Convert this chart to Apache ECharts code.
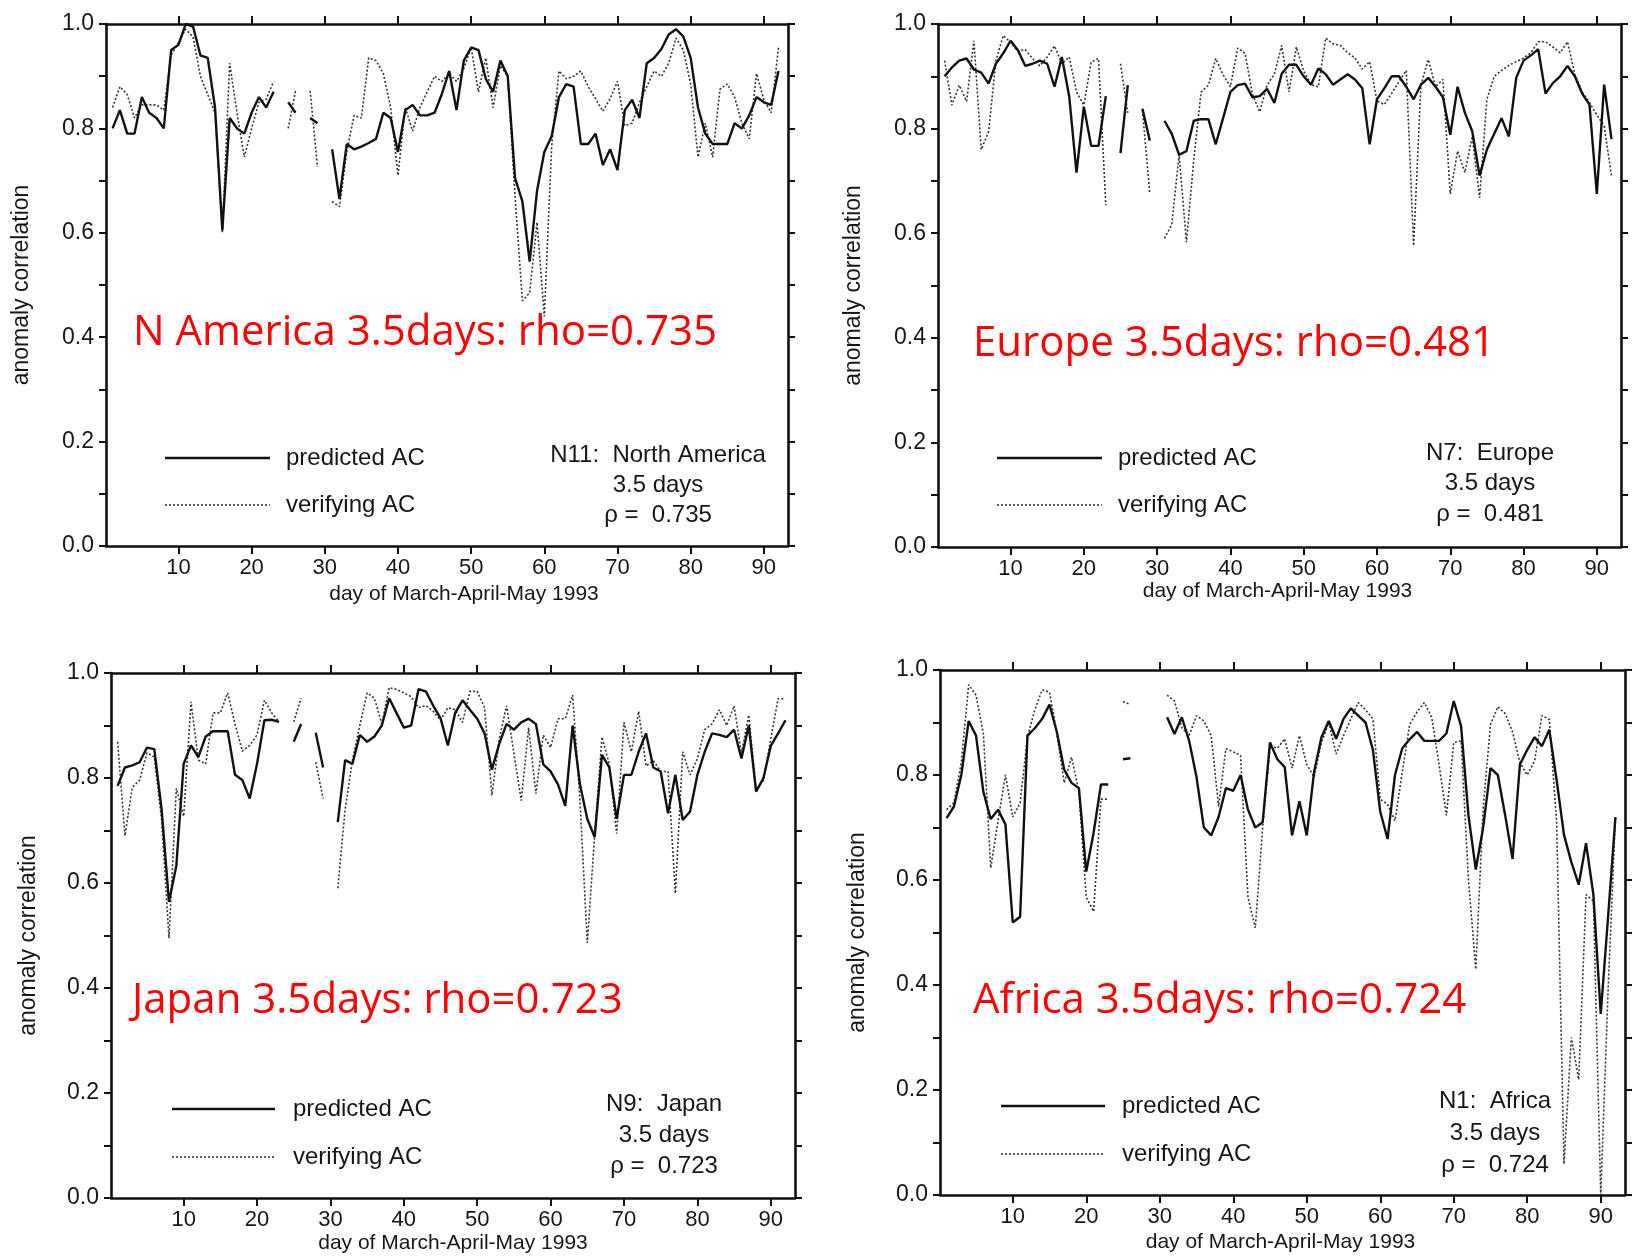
<!DOCTYPE html>
<html><head><meta charset="utf-8">
<script src="https://cdn.jsdelivr.net/npm/echarts@6/dist/echarts.min.js"></script>
<style>html,body{margin:0;padding:0;background:#fff}#c{width:1635px;height:1259px}</style>
</head><body><div id="c"></div>
<script>
// day of March-April-May 1993 (1..92)
const days = [];
for (let d = 1; d <= 92; d++) days.push(d);
const dayTicks = [10, 20, 30, 40, 50, 60, 70, 80, 90];

// N11 North America
const naPredicted = [
  0.80, 0.835, 0.79, 0.79, 0.86, 0.83, 0.82, 0.80, 0.95, 0.96,
  1.0, 0.995, 0.94, 0.935, 0.84, 0.605, 0.82, 0.80, 0.79, 0.83,
  0.86, 0.84, 0.87, null, 0.85, 0.83, null, 0.82, 0.81, null,
  0.76, 0.665, 0.77, 0.76, 0.765, 0.772, 0.78, 0.83, 0.82, 0.755,
  0.835, 0.845, 0.825, 0.825, 0.83, 0.866, 0.91, 0.835, 0.93, 0.955,
  0.95, 0.895, 0.87, 0.93, 0.90, 0.705, 0.66, 0.545, 0.68, 0.755,
  0.785, 0.86, 0.885, 0.88, 0.77, 0.77, 0.79, 0.73, 0.76, 0.72,
  0.835, 0.855, 0.82, 0.925, 0.935, 0.952, 0.98, 0.99, 0.976, 0.935,
  0.84, 0.79, 0.77, 0.77, 0.77, 0.81, 0.80, 0.825, 0.86, 0.85,
  0.845, 0.91
];
const naVerifying = [
  0.84, 0.88, 0.865, 0.82, 0.845, 0.845, 0.845, 0.835, 0.94, 0.965,
  0.99, 0.975, 0.90, 0.865, 0.83, 0.60, 0.925, 0.83, 0.745, 0.80,
  0.85, 0.856, 0.89, null, 0.80, 0.872, null, 0.872, 0.726, null,
  0.66, 0.65, 0.755, 0.825, 0.82, 0.935, 0.93, 0.905, 0.84, 0.71,
  0.84, 0.795, 0.84, 0.87, 0.90, 0.89, 0.905, 0.89, 0.915, 0.955,
  0.87, 0.935, 0.84, 0.92, 0.90, 0.67, 0.47, 0.485, 0.62, 0.44,
  0.765, 0.91, 0.895, 0.90, 0.91, 0.88, 0.857, 0.833, 0.857, 0.89,
  0.805, 0.81, 0.85, 0.88, 0.91, 0.90, 0.925, 0.973, 0.95, 0.885,
  0.745, 0.81, 0.745, 0.875, 0.885, 0.86, 0.81, 0.78, 0.905, 0.855,
  0.83, 0.955
];

// N7 Europe
const euPredicted = [
  0.90, 0.917, 0.93, 0.934, 0.913, 0.907, 0.886, 0.924, 0.944, 0.968,
  0.95, 0.92, 0.924, 0.93, 0.924, 0.88, 0.937, 0.862, 0.716, 0.842,
  0.767, 0.767, 0.862, null, 0.753, 0.883, null, 0.838, 0.777, null,
  0.815, 0.79, 0.75, 0.757, 0.815, 0.818, 0.818, 0.77, 0.82, 0.87,
  0.883, 0.886, 0.86, 0.862, 0.876, 0.849, 0.905, 0.922, 0.922, 0.90,
  0.884, 0.915, 0.904, 0.884, 0.894, 0.904, 0.894, 0.877, 0.77, 0.856,
  0.877, 0.90, 0.90, 0.88, 0.856, 0.884, 0.897, 0.88, 0.86, 0.788,
  0.88, 0.83, 0.795, 0.71, 0.76, 0.79, 0.82, 0.785, 0.897, 0.93,
  0.94, 0.952, 0.867, 0.887, 0.90, 0.92, 0.90, 0.867, 0.846, 0.675,
  0.884, 0.78
];
const euVerifying = [
  0.93, 0.845, 0.883, 0.852, 0.968, 0.76, 0.794, 0.93, 0.978, 0.965,
  0.948, 0.951, 0.934, 0.92, 0.937, 0.958, 0.924, 0.937, 0.87, 0.845,
  0.927, 0.934, 0.654, null, 0.924, 0.83, null, 0.835, 0.675, null,
  0.59, 0.617, 0.75, 0.583, 0.74, 0.87, 0.883, 0.934, 0.903, 0.88,
  0.954, 0.944, 0.866, 0.832, 0.883, 0.904, 0.959, 0.87, 0.956, 0.91,
  0.884, 0.88, 0.973, 0.962, 0.959, 0.945, 0.935, 0.914, 0.928, 0.853,
  0.846, 0.867, 0.89, 0.911, 0.576, 0.884, 0.932, 0.88, 0.894, 0.675,
  0.757, 0.716, 0.785, 0.668, 0.856, 0.90, 0.911, 0.921, 0.928, 0.935,
  0.945, 0.966, 0.966, 0.956, 0.945, 0.966, 0.904, 0.87, 0.85, 0.826,
  0.805, 0.71
];

// N9 Japan
const jpPredicted = [
  0.785, 0.82, 0.824, 0.83, 0.858, 0.855, 0.74, 0.564, 0.633, 0.827,
  0.862, 0.84, 0.879, 0.889, 0.889, 0.889, 0.806, 0.796, 0.761, 0.827,
  0.91, 0.911, 0.907, null, 0.869, 0.903, null, 0.886, 0.82, null,
  0.716, 0.834, 0.827, 0.882, 0.869, 0.879, 0.90, 0.952, 0.924, 0.896,
  0.90, 0.969, 0.965, 0.938, 0.914, 0.862, 0.924, 0.948, 0.93, 0.913,
  0.885, 0.816, 0.865, 0.903, 0.892, 0.906, 0.913, 0.903, 0.826, 0.8125,
  0.788, 0.747, 0.90, 0.788, 0.722, 0.6875, 0.844, 0.82, 0.722, 0.806,
  0.806, 0.85, 0.885, 0.82, 0.8125, 0.733, 0.806, 0.72, 0.736, 0.806,
  0.85, 0.885, 0.882, 0.878, 0.892, 0.837, 0.90, 0.774, 0.80, 0.861,
  0.885, 0.91
];
const jpVerifying = [
  0.869, 0.69, 0.782, 0.796, 0.848, 0.84, 0.72, 0.495, 0.78, 0.727,
  0.945, 0.834, 0.827, 0.924, 0.924, 0.962, 0.903, 0.851, 0.862, 0.882,
  0.948, 0.924, 0.907, null, 0.907, 0.952, null, 0.83, 0.761, null,
  0.59, 0.74, 0.834, 0.90, 0.962, 0.952, 0.903, 0.972, 0.969, 0.962,
  0.955, 0.934, 0.938, 0.927, 0.91, 0.934, 0.93, 0.906, 0.965, 0.965,
  0.934, 0.767, 0.875, 0.9375, 0.847, 0.757, 0.896, 0.77, 0.882, 0.858,
  0.913, 0.913, 0.958, 0.757, 0.486, 0.69, 0.878, 0.826, 0.694, 0.906,
  0.85, 0.927, 0.823, 0.833, 0.8125, 0.8125, 0.58, 0.85, 0.806, 0.837,
  0.892, 0.903, 0.93, 0.90, 0.9375, 0.847, 0.92, 0.778, 0.795, 0.875,
  0.951, 0.951
];

// N1 Africa
const afPredicted = [
  0.718, 0.74, 0.80, 0.903, 0.875, 0.768, 0.716, 0.734, 0.706, 0.519,
  0.53, 0.875, 0.889, 0.907, 0.934, 0.882, 0.81, 0.785, 0.775, 0.616,
  0.69, 0.782, 0.782, null, 0.83, 0.832, null, null, null, null,
  0.91, 0.878, 0.91, 0.865, 0.796, 0.70, 0.685, 0.72, 0.775, 0.77,
  0.80, 0.734, 0.70, 0.71, 0.862, 0.83, 0.815, 0.685, 0.75, 0.685,
  0.806, 0.872, 0.903, 0.869, 0.907, 0.927, 0.913, 0.90, 0.848, 0.73,
  0.678, 0.80, 0.851, 0.868, 0.882, 0.865, 0.865, 0.865, 0.879, 0.941,
  0.893, 0.723, 0.62, 0.70, 0.813, 0.80, 0.723, 0.64, 0.82, 0.848,
  0.872, 0.855, 0.886, 0.79, 0.686, 0.634, 0.591, 0.67, 0.572, 0.345,
  0.53, 0.72
];
const afVerifying = [
  0.734, 0.747, 0.824, 0.972, 0.952, 0.879, 0.623, 0.713, 0.80, 0.72,
  0.747, 0.872, 0.924, 0.962, 0.958, 0.879, 0.785, 0.834, 0.768, 0.567,
  0.54, 0.754, 0.754, null, 0.94, 0.934, null, null, null, null,
  0.952, 0.941, 0.89, 0.875, 0.913, 0.903, 0.875, 0.74, 0.85, 0.844,
  0.837, 0.567, 0.509, 0.70, 0.855, 0.851, 0.869, 0.813, 0.875, 0.82,
  0.796, 0.862, 0.90, 0.84, 0.875, 0.907, 0.938, 0.924, 0.907, 0.754,
  0.744, 0.713, 0.806, 0.896, 0.92, 0.938, 0.91, 0.82, 0.723, 0.862,
  0.865, 0.60, 0.43, 0.737, 0.896, 0.93, 0.917, 0.882, 0.824, 0.80,
  0.827, 0.913, 0.906, 0.71, 0.059, 0.30, 0.22, 0.572, 0.56, 0.0,
  0.39, 0.72
];

const predictedSets = [naPredicted, euPredicted, jpPredicted, afPredicted];
const verifyingSets = [naVerifying, euVerifying, jpVerifying, afVerifying];
const redLabels = ['N America 3.5days: rho=0.735', 'Europe 3.5days: rho=0.481',
                   'Japan 3.5days: rho=0.723', 'Africa 3.5days: rho=0.724'];
const regionLabels = ['N11:  North America', 'N7:  Europe', 'N9:  Japan', 'N1:  Africa'];
const leadLabel = '3.5 days';
const rhoLabels = ['\u03c1 =  0.735', '\u03c1 =  0.481', '\u03c1 =  0.723', '\u03c1 =  0.724'];
const xTitle = 'day of March-April-May 1993';
const yTitle = 'anomaly correlation';
const legendNames = ['predicted AC', 'verifying AC'];

// layout (pixels)
const grids = [
  {left: 106, top: 24, width: 682, height: 522},
  {left: 938, top: 24, width: 683, height: 523},
  {left: 111, top: 673, width: 684, height: 525},
  {left: 940, top: 670, width: 685, height: 525}
];
const xNameGap = [38, 34, 35, 37];
const xNameShift = [34, -4, 0, -4];
const yNameGap = [73, 73, 71, 71];
const redPos = [[133, 333], [973, 344], [132, 1001], [973, 1001]];
const legPos = [ // x1, x2, textX, y1, y2
  [165, 270, 286, 458, 505],
  [997, 1102, 1118, 458, 505],
  [172, 275, 293, 1109, 1157],
  [1001, 1105, 1122, 1106, 1154]
];
const blockPos = [[658, 455, 485, 515], [1490, 453, 483, 514], [664, 1104, 1135, 1166], [1495, 1101, 1133, 1165]];

const FONT = '"Liberation Sans", Arial, sans-serif';
const INK = '#161616';

const xAxes = [], yAxes = [], series = [], graphics = [];
grids.forEach((g, i) => {
  ['bottom', 'top'].forEach(pos => {
    xAxes.push({
      type: 'value', gridIndex: i, position: pos, min: 0.1, max: 93.3,
      axisLine: {show: true, onZero: false, lineStyle: {color: '#111', width: 2.6}},
      axisTick: {show: true, customValues: dayTicks, length: 8, lineStyle: {color: '#111', width: 2}},
      axisLabel: {show: pos === 'bottom', customValues: dayTicks, margin: 11, fontSize: 22, color: INK, fontFamily: FONT},
      splitLine: {show: false},
      name: pos === 'bottom' ? xTitle : '',
      nameLocation: 'middle', nameGap: xNameGap[i],
      nameTextStyle: {fontSize: 21, color: INK, fontFamily: FONT,
        padding: xNameShift[i] >= 0 ? [0, 0, 0, xNameShift[i]] : [0, -xNameShift[i], 0, 0]}
    });
  });
  ['left', 'right'].forEach(pos => {
    yAxes.push({
      type: 'value', gridIndex: i, position: pos, min: 0, max: 1, interval: 0.1,
      axisLine: {show: true, onZero: false, lineStyle: {color: '#111', width: 2.6}},
      axisTick: {show: true, length: 7, lineStyle: {color: '#111', width: 2}},
      axisLabel: {show: pos === 'left', margin: 12, fontSize: 23, color: INK, fontFamily: FONT,
        formatter: v => (Math.round(v * 10) % 2 === 0 ? v.toFixed(1) : '')},
      splitLine: {show: false},
      name: pos === 'left' ? yTitle : '',
      nameLocation: 'middle', nameGap: yNameGap[i], nameRotate: 90,
      nameTextStyle: {fontSize: 23, color: INK, fontFamily: FONT}
    });
  });
  const toPts = arr => days.map((d, j) => [d, arr[j] === null ? null : arr[j]]);
  series.push({
    name: legendNames[0], type: 'line', xAxisIndex: 2 * i, yAxisIndex: 2 * i,
    data: toPts(predictedSets[i]), showSymbol: false, symbol: 'none', connectNulls: false,
    lineStyle: {color: '#111', width: 2.4}, z: 3
  });
  series.push({
    name: legendNames[1], type: 'line', xAxisIndex: 2 * i, yAxisIndex: 2 * i,
    data: toPts(verifyingSets[i]), showSymbol: false, symbol: 'none', connectNulls: false,
    lineStyle: {color: '#333', width: 1.6, type: [2, 2]}, z: 2
  });

  // in-plot legend
  const L = legPos[i];
  graphics.push({type: 'line', shape: {x1: L[0], y1: L[3], x2: L[1], y2: L[3]}, style: {stroke: '#111', lineWidth: 2.4}});
  graphics.push({type: 'line', shape: {x1: L[0], y1: L[4], x2: L[1], y2: L[4]}, style: {stroke: '#333', lineWidth: 1.6, lineDash: [2, 2]}});
  graphics.push({type: 'text', x: L[2], y: L[3], style: {text: legendNames[0], fill: INK, font: '24px ' + FONT, textAlign: 'left', textVerticalAlign: 'middle'}});
  graphics.push({type: 'text', x: L[2], y: L[4], style: {text: legendNames[1], fill: INK, font: '24px ' + FONT, textAlign: 'left', textVerticalAlign: 'middle'}});
  // region block
  const B = blockPos[i];
  [regionLabels[i], leadLabel, rhoLabels[i]].forEach((t, k) => {
    graphics.push({type: 'text', x: B[0], y: B[k + 1], style: {text: t, fill: INK, font: '24px ' + FONT, textAlign: 'center', textVerticalAlign: 'middle'}});
  });
  // red annotation
  graphics.push({type: 'text', x: redPos[i][0], y: redPos[i][1], z: 10,
    style: {text: redLabels[i], fill: '#ff0000', font: '42px "Open Sans", sans-serif', textAlign: 'left', textVerticalAlign: 'middle'}});
});

const chart = echarts.init(document.getElementById('c'), null, {renderer: 'canvas'});
chart.setOption({
  animation: false,
  backgroundColor: '#fff',
  grid: grids.map(g => Object.assign({show: false, containLabel: false}, g)),
  xAxis: xAxes,
  yAxis: yAxes,
  series: series,
  graphic: graphics
});
</script></body></html>
